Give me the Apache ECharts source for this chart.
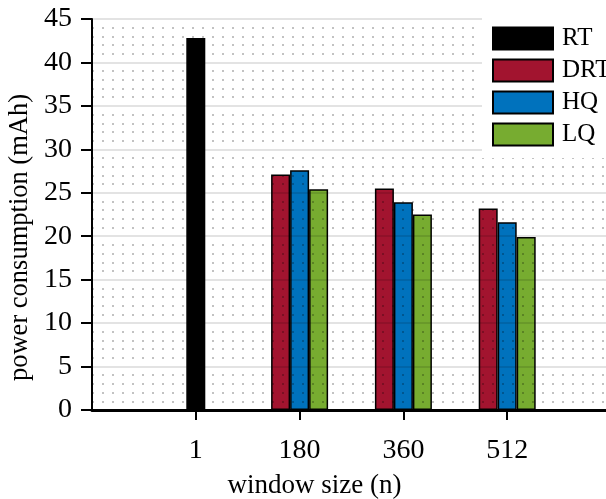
<!DOCTYPE html>
<html>
<head>
<meta charset="utf-8">
<script src="https://cdn.jsdelivr.net/npm/echarts@6/dist/echarts.min.js"></script>
<style>
  html, body { margin: 0; padding: 0; background: #fff; }
  #chart { width: 606px; height: 499px; }
</style>
</head>
<body>
<div id="chart"></div>
<script>
// empty slots at both ends so the four groups sit where the original puts them
const categories = ['', '1', '180', '360', '512', '']
const rtValues = ['-', 42.8, '-', '-', '-', '-']
const drtValues = ['-', '-', 27.1, 25.5, 23.2, '-']
const hqValues = ['-', '-', 27.6, 23.9, 21.6, '-']
const lqValues = ['-', '-', 25.4, 22.5, 19.9, '-']
const yTicks = [0, 45, 5]

const serif = 'Liberation Serif, Times New Roman, serif'
const chart = echarts.init(document.getElementById('chart'))

const barStyle = (color) => ({
  color: color,
  borderColor: '#000',
  borderWidth: 1.5
})

const showInner = (i) => i >= 1 && i <= 4

chart.setOption({
  animation: false,
  textStyle: { fontFamily: serif },
  grid: { left: 92, right: -5, top: 19, bottom: 89, outerBoundsMode: 'none' },
  legend: {
    data: ['RT', 'DRT', 'HQ', 'LQ'],
    orient: 'vertical',
    left: 482,
    top: 18,
    z: 10,
    backgroundColor: '#fff',
    padding: [8, 0, 11, 10],
    icon: 'rect',
    itemWidth: 60,
    itemHeight: 22,
    itemGap: 7,
    itemStyle: { borderColor: '#000', borderWidth: 2 },
    textStyle: { fontFamily: serif, fontSize: 25, lineHeight: 22, color: '#000', padding: [0, 0, 0, 4] }
  },
  xAxis: {
    type: 'category',
    data: categories,
    boundaryGap: false,
    z: 5,
    name: 'window size (n)',
    nameLocation: 'middle',
    nameGap: 62,
    // the original centres this title left of the axis middle
    nameTextStyle: { fontFamily: serif, fontSize: 27, color: '#000', padding: [0, 74, 0, 0] },
    axisLine: { lineStyle: { color: '#000', width: 3 } },
    axisTick: { interval: showInner, length: 10, lineStyle: { color: '#000', width: 2 } },
    axisLabel: { interval: showInner, margin: 27, fontFamily: serif, fontSize: 28, color: '#000' },
    splitLine: { show: false }
  },
  yAxis: {
    type: 'value',
    min: yTicks[0],
    max: yTicks[1],
    interval: yTicks[2],
    z: 5,
    name: 'power consumption (mAh)',
    nameLocation: 'middle',
    nameGap: 50,
    nameTextStyle: { fontFamily: serif, fontSize: 26.5, color: '#000', padding: [0, 46, 0, 0] },
    axisLine: { show: true, lineStyle: { color: '#000', width: 2 } },
    axisTick: { show: true, length: 11, lineStyle: { color: '#000', width: 2 } },
    axisLabel: { margin: 20, fontFamily: serif, fontSize: 28, color: '#000' },
    splitLine: { lineStyle: { color: 'rgba(0,0,0,0.15)', width: 1.5 } },
    minorTick: { show: false, splitNumber: 5 },
    minorSplitLine: { show: true, lineStyle: { color: 'rgba(0,0,0,0.24)', width: 2, type: [2, 8] } }
  },
  series: [
    { name: 'DRT', type: 'bar', stack: 'left', barWidth: 19, data: drtValues, itemStyle: barStyle('#A2142F') },
    { name: 'RT', type: 'bar', stack: 'mid', barWidth: 19, data: rtValues, itemStyle: barStyle('#000000') },
    { name: 'HQ', type: 'bar', stack: 'mid', barWidth: 19, data: hqValues, itemStyle: barStyle('#0072BD') },
    { name: 'LQ', type: 'bar', stack: 'right', barWidth: 19, barGap: '0%', data: lqValues, itemStyle: barStyle('#77AC30') }
  ]
})
</script>
</body>
</html>
